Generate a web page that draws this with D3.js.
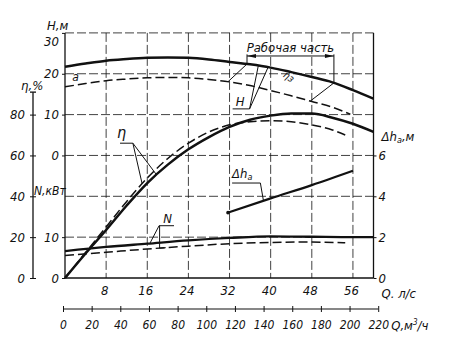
<!DOCTYPE html>
<html><head><meta charset="utf-8">
<script src="https://cdn.jsdelivr.net/npm/d3@7"></script>
<style>
body{margin:0;background:#fff}
svg text{font-family:"Liberation Sans Narrow","DejaVu Sans Condensed",sans-serif;font-style:italic;fill:#111}
</style></head><body><svg id="c" width="460" height="355"></svg>
<script>
// ---- tick values ----
const qTicksLs = [8, 16, 24, 32, 40, 48, 56];
const qTicksM3h = [0, 20, 40, 60, 80, 100, 120, 140, 160, 180, 200, 220];
const hTicks = [0, 10, 20, 30];
const nTicks = [0, 10];
const etaTicks = [0, 20, 40, 60, 80];
const dhTicks = [0, 2, 4, 6];
const gridEta = [20, 40, 60, 80, 100, 120]; // horizontal grid lines (in eta units)

// ---- series (Q in l/s) ----
const qH      = [0, 4, 8, 12, 16, 20, 24, 28, 32, 36, 40, 44, 48, 52, 56, 60];
const hSolid  = [21.7, 22.5, 23.2, 23.6, 23.9, 24.0, 23.9, 23.5, 22.9, 22.3, 21.5, 20.4, 19.2, 17.9, 16.0, 13.9];
const qHa     = [0, 4, 8, 12, 16, 20, 24, 28, 32, 36, 40, 44, 48, 52, 55.5];
const hDashed = [16.8, 17.6, 18.3, 18.7, 19.0, 19.1, 19.0, 18.6, 18.0, 17.1, 15.9, 14.6, 13.2, 11.8, 10.1];

const qEta      = [0, 4, 8, 12, 16, 20, 24, 28, 32, 36, 40, 44, 48, 52, 56, 60];
const etaSolid  = [0, 12, 23.5, 35.5, 46.5, 55.5, 63, 69, 74, 77.5, 79.5, 80.5, 80.5, 78.5, 75.5, 71.5];
const qEtaA     = [0, 4, 8, 12, 16, 20, 24, 28, 32, 36, 40, 44, 48, 52, 54.5];
const etaDashed = [0, 12.5, 25, 37.5, 49, 58.5, 66, 71.5, 75, 76.5, 77, 76.5, 75, 72.5, 70];

const qN      = [0, 8, 16, 24, 32, 40, 48, 56, 60];
const nSolid  = [6.6, 7.6, 8.4, 9.2, 9.8, 10.2, 10.1, 10.0, 10.0];
const qNa     = [0, 8, 16, 24, 32, 40, 48, 54.5];
const nDashed = [5.5, 6.3, 7.1, 7.8, 8.4, 8.7, 8.8, 8.6];

const qDh     = [31.7, 40, 48, 56];
const dhSolid = [3.2, 3.9, 4.55, 5.25];

const workZone  = [35.4, 52.3]; // on solid H
const workZoneA = [31.7, 47.7]; // projection on dashed H

// ---- layout ----
const svg = d3.select("#c");
const L = 65, R = 373.5, B = 278, step = 40.85;
const x = d3.scaleLinear([0, 60], [L, R]);
const yH = d3.scaleLinear([0, 30], [B - 3 * step, B - 6 * step]);
const yN = d3.scaleLinear([0, 10], [B, B - step]);
const yEta = d3.scaleLinear([0, 80], [B, B - 4 * step]);
const yDh = d3.scaleLinear([0, 6], [B, B - 3 * step]);
const xM = d3.scaleLinear([0, 220], [x(0) - 2, x(220 / 3.6) - 1]);
const at = (qs, vs, q) => d3.scaleLinear(qs, vs)(q);
const ink = "#111";
const fmt = d3.format("d");

// grid
const grid = svg.append("g").attr("stroke", ink).attr("stroke-width", 0.8).attr("stroke-dasharray", "9,3");
grid.selectAll(".h").data(gridEta).join("line")
  .attr("x1", L).attr("x2", R).attr("y1", d => yEta(d)).attr("y2", d => yEta(d));
grid.selectAll(".v").data(qTicksLs).join("line")
  .attr("x1", d => x(d)).attr("x2", d => x(d)).attr("y1", yEta(120)).attr("y2", B);

// frame
const fr = svg.append("g").attr("stroke", ink).attr("stroke-width", 1.3);
fr.append("line").attr("x1", L).attr("x2", L).attr("y1", yH(30)).attr("y2", B);
fr.append("line").attr("x1", R).attr("x2", R).attr("y1", yH(30)).attr("y2", B);
fr.append("line").attr("x1", L).attr("x2", R).attr("y1", B).attr("y2", B);

// curves
function curve(qs, vs, ys, dashed, w) {
  const line = d3.line().x(d => x(d[0])).y(d => ys(d[1])).curve(d3.curveMonotoneX);
  svg.append("path").datum(qs.map((q, i) => [q, vs[i]]))
    .attr("d", line).attr("fill", "none").attr("stroke", ink)
    .attr("stroke-width", w).attr("stroke-dasharray", dashed ? "9,4" : null);
}
curve(qH, hSolid, yH, false, 2.5);
curve(qHa, hDashed, yH, true, 1.5);
curve(qEta, etaSolid, yEta, false, 2.5);
curve(qEtaA, etaDashed, yEta, true, 1.5);
curve(qN, nSolid, yN, false, 2.3);
curve(qNa, nDashed, yN, true, 1.5);
curve(qDh, dhSolid, yDh, false, 2.3);
svg.append("circle").attr("cx", x(qDh[0])).attr("cy", yDh(dhSolid[0])).attr("r", 1.8).attr("fill", ink);

// axes
function styleAxis(g) {
  g.attr("font-size", 13).select(".domain").remove();
  g.selectAll("line").attr("stroke", ink);
}
const gH = svg.append("g").attr("transform", `translate(${L},0)`)
  .call(d3.axisLeft(yH).tickValues(hTicks).tickFormat(fmt).tickSize(3).tickPadding(3)).call(styleAxis);
gH.selectAll("text").filter(d => d === 30).attr("dy", "0.95em");
svg.append("g").attr("transform", `translate(${L},0)`)
  .call(d3.axisLeft(yN).tickValues(nTicks).tickFormat(fmt).tickSize(3).tickPadding(3)).call(styleAxis);

const eX = 33;
const gE = svg.append("g").attr("transform", `translate(${eX},0)`)
  .call(d3.axisLeft(yEta).tickValues(etaTicks).tickFormat(fmt).tickSize(3).tickPadding(5)).call(styleAxis);
gE.selectAll(".tick line").attr("x1", -3).attr("x2", 3);
svg.append("line").attr("x1", eX).attr("x2", eX).attr("y1", yEta(0)).attr("y2", yEta(91))
  .attr("stroke", ink).attr("stroke-width", 1.3);
svg.append("line").attr("x1", eX - 3).attr("x2", eX + 3).attr("y1", yEta(91)).attr("y2", yEta(91))
  .attr("stroke", ink).attr("stroke-width", 1.3);

svg.append("g").attr("transform", `translate(${R},0)`)
  .call(d3.axisRight(yDh).tickValues(dhTicks).tickFormat(fmt).tickSize(3).tickPadding(2)).call(styleAxis);

const gQ = svg.append("g").attr("transform", `translate(0,${B})`)
  .call(d3.axisBottom(x).tickValues(qTicksLs).tickFormat(fmt).tickSize(0).tickPadding(8)).call(styleAxis);
gQ.selectAll("text").attr("dx", -2);

const mY = 309;
const gM = svg.append("g").attr("transform", `translate(0,${mY})`)
  .call(d3.axisBottom(xM).tickValues(qTicksM3h).tickFormat(fmt).tickSize(3).tickPadding(8)).call(styleAxis);
gM.attr("font-size", 12);
gM.selectAll(".tick line").attr("y1", -3).attr("y2", 3);
svg.append("line").attr("x1", xM(0)).attr("x2", xM(220)).attr("y1", mY).attr("y2", mY)
  .attr("stroke", ink).attr("stroke-width", 1.2);

// axis titles
const t = (tx, ty, s, fs) => svg.append("text").attr("x", tx).attr("y", ty).attr("font-size", fs || 13).text(s);
t(47, 30, "H,м");
t(21, 90, "η,%");
t(34, 195, "N,кВт", 12);
const dh = svg.append("text").attr("x", R + 8).attr("y", 141).attr("font-size", 13);
dh.append("tspan").text("Δh");
dh.append("tspan").attr("font-size", 9).attr("dy", 2).text("a");
dh.append("tspan").attr("dy", -2).text(",м");
t(R + 8, 298, "Q. л/с");
const qm = svg.append("text").attr("x", xM(220) + 13).attr("y", 330).attr("font-size", 13);
qm.append("tspan").text("Q,м");
qm.append("tspan").attr("font-size", 8).attr("dy", -5).text("3");
qm.append("tspan").attr("dy", 5).text("/ч");

// annotations
const an = svg.append("g").attr("stroke", ink).attr("fill", "none").attr("stroke-width", 1);
const pl = pts => an.append("polyline").attr("points", pts.map(p => p.join(",")).join(" "));

// "a"
t(x(1.4), yH(18.2), "a", 12);

// eta label
t(x(10.1), yEta(68.5), "η", 16);
pl([[x(10.7), yEta(66)], [x(13.2), yEta(66)], [x(15), yEta(at(qEtaA, etaDashed, 15))]]);
pl([[x(13.2), yEta(66)], [x(17.8), yEta(at(qEta, etaSolid, 17.8))]]);

// N label
t(x(19.1), yN(13.5), "N", 13);
pl([[x(21.2), yN(12.8)], [x(18.3), yN(12.8)], [x(16.5), yN(at(qN, nSolid, 16.5))]]);
pl([[x(18.4), yN(12.8)], [x(18.4), yN(at(qNa, nDashed, 18.4))], [x(19.6), yN(at(qNa, nDashed, 19.6))]]);

// dh label
const dl = svg.append("text").attr("x", x(32.5)).attr("y", yDh(4.9)).attr("font-size", 13);
dl.append("tspan").text("Δh");
dl.append("tspan").attr("font-size", 9).attr("dy", 2).text("a");
pl([[x(32.5), yDh(4.65)], [x(38), yDh(4.65)], [x(38.6), yDh(at(qDh, dhSolid, 38.6))]]);

// H label
t(x(33.2), yH(12.2), "H", 13);
pl([[x(32.6), yH(11.4)], [x(35.9), yH(11.4)], [x(39.5), yH(at(qH, hSolid, 39.5))]]);
pl([[x(35.9), yH(11.4)], [x(37.6), yH(at(qH, hSolid, 37.6))]]);

// working zone
const topH = 24.35;
workZone.forEach(q => pl([[x(q), yH(topH + 0.4)], [x(q), yH(at(qH, hSolid, q))]]));
workZone.forEach((q, i) => pl([[x(q), yH(at(qH, hSolid, q))], [x(workZoneA[i]), yH(at(qHa, hDashed, workZoneA[i]))]]));
pl([[x(workZone[0]), yH(topH)], [x(workZone[1]), yH(topH)]]);
[[workZone[0], 1], [workZone[1], -1]].forEach(([q, dir]) => {
  const px = x(q), py = yH(topH);
  svg.append("path").attr("d", `M${px},${py} L${px + dir * 9},${py - 2} L${px + dir * 9},${py + 2} Z`).attr("fill", ink);
});
t((x(workZone[0]) + x(workZone[1])) / 2, yH(25.3), "Рабочая часть", 13).attr("text-anchor", "middle");

// small slanted glyph under H curve
svg.append("text").attr("font-size", 10)
  .attr("transform", `translate(${x(42.3)},${yH(19.3)}) rotate(35)`).text("ηз");
</script></body></html>
